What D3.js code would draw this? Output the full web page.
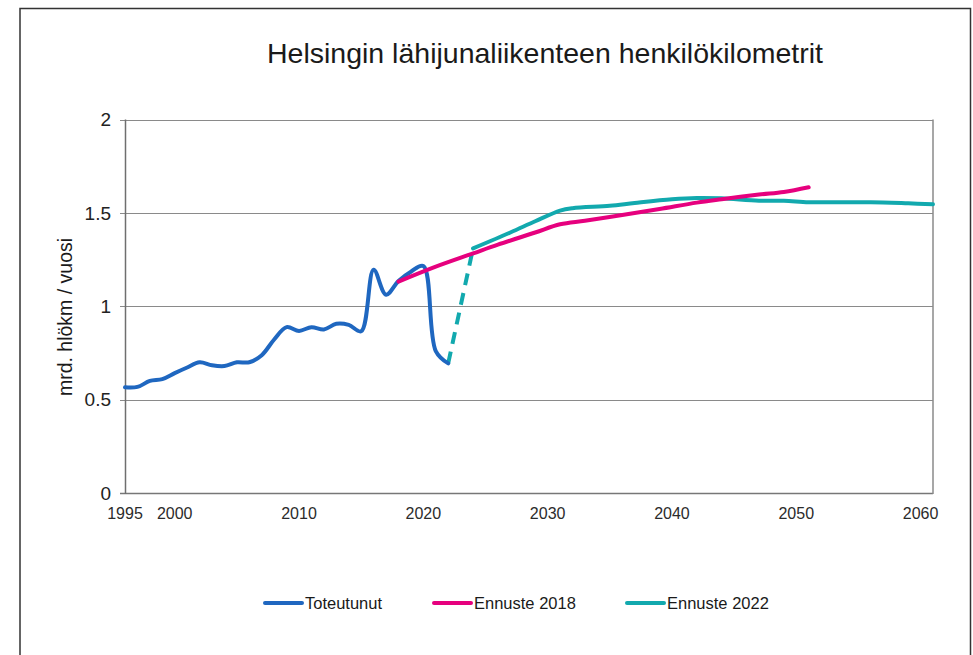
<!DOCTYPE html>
<html>
<head>
<meta charset="utf-8">
<script src="https://cdn.jsdelivr.net/npm/d3@7"></script>
<style>
  body { margin: 0; background: #fff; }
  svg { display: block; font-family: "Liberation Sans", Arial, sans-serif; }
</style>
</head>
<body>
<svg id="chart" width="973" height="655"></svg>
<script>
// values (mrd. hlökm / vuosi)
const toteutunutYears = [1995, 1996, 1997, 1998, 1999, 2000, 2001, 2002, 2003, 2004, 2005, 2006, 2007,
  2008, 2009, 2010, 2011, 2012, 2013, 2014, 2015, 2016, 2017, 2018, 2019, 2020, 2021];
const toteutunutValues = [0.566, 0.568, 0.600, 0.610, 0.642, 0.672, 0.700, 0.684, 0.680, 0.700, 0.700, 0.738, 0.822,
  0.888, 0.868, 0.888, 0.876, 0.906, 0.900, 0.866, 1.195, 1.062, 1.135, 1.185, 1.215, 0.760, 0.694];

const ennuste2018Years = [2017, 2020, 2023, 2025, 2028, 2030, 2032, 2035, 2038, 2041, 2043, 2046, 2048, 2050];
const ennuste2018Values = [1.132, 1.212, 1.283, 1.330, 1.395, 1.439, 1.458, 1.489, 1.521, 1.555, 1.573, 1.598, 1.612, 1.637];

// dashed link from the last actual year to the start of the 2022 forecast
const linkYears = [2021, 2023];
const linkValues = [0.694, 1.310];

const ennuste2022Years = [2023, 2026, 2028, 2030, 2031, 2034, 2036, 2039, 2041, 2043, 2046, 2048, 2050, 2053, 2055, 2058, 2060];
const ennuste2022Values = [1.310, 1.395, 1.455, 1.512, 1.525, 1.538, 1.553, 1.573, 1.580, 1.578, 1.565, 1.565, 1.557, 1.557, 1.557, 1.551, 1.546];

const xTickLabels = [1995, 2000, 2010, 2020, 2030, 2040, 2050, 2060];
const yTickValues = [0, 0.5, 1, 1.5, 2];
const yTickLabels = ['0', '0.5', '1', '1.5', '2'];

const seriesNames = ['Toteutunut', 'Ennuste 2018', 'Ennuste 2022'];
const seriesColors = ['#1f67c0', '#e6007e', '#12a9ae'];

const zip = (xs, ys) => xs.map((x, i) => ({ year: x, value: ys[i] }));

const margin = { top: 119.5, right: 40, bottom: 162, left: 125 };
const width = 973;
const height = 655;

const svg = d3.select('#chart');

// outer frame
svg.append('rect')
  .attr('x', 20)
  .attr('y', 8.5)
  .attr('width', 950.5)
  .attr('height', 700)
  .attr('fill', 'none')
  .attr('stroke', '#333')
  .attr('stroke-width', 1.5);

const xRange = d3.scaleLinear()
  .domain([1995, 2060])
  .range([margin.left, width - margin.right])
  .clamp(true);

const yRange = d3.scaleLinear()
  .domain([0, 2])
  .range([height - margin.bottom, margin.top]);

// gridlines, with the little outer tick on the left
svg.append('g')
  .selectAll('line')
  .data(yTickValues)
  .join('line')
  .attr('x1', margin.left - 5)
  .attr('x2', xRange(2060))
  .attr('y1', (d) => Math.round(yRange(d)) + 0.5)
  .attr('y2', (d) => Math.round(yRange(d)) + 0.5)
  .attr('stroke', (d) => d === 0 ? '#777' : '#8a8a8a')
  .attr('stroke-width', (d) => d === 0 ? 1.5 : 1.2);

svg.append('g')
  .selectAll('text')
  .data(yTickValues)
  .join('text')
  .attr('x', 111)
  .attr('y', (d) => yRange(d))
  .attr('dy', '0.35em')
  .attr('text-anchor', 'end')
  .attr('font-size', 19)
  .attr('fill', '#222')
  .text((d, i) => yTickLabels[i]);

// left axis and right plot border
svg.append('line')
  .attr('x1', margin.left + 0.5).attr('x2', margin.left + 0.5)
  .attr('y1', yRange(2)).attr('y2', yRange(0) + 1)
  .attr('stroke', '#6f6f6f')
  .attr('stroke-width', 1.5);

svg.append('line')
  .attr('x1', xRange(2060)).attr('x2', xRange(2060))
  .attr('y1', yRange(2)).attr('y2', yRange(0) + 1)
  .attr('stroke', '#8a8a8a')
  .attr('stroke-width', 1.5);

// x labels sit one category to the left in the source (1995 clamps to the axis)
svg.append('g')
  .selectAll('text')
  .data(xTickLabels)
  .join('text')
  .attr('x', (d) => xRange(d - 1))
  .attr('y', 518.5)
  .attr('text-anchor', 'middle')
  .attr('font-size', 16)
  .attr('fill', '#2b2b2b')
  .text((d) => d);

// titles
svg.append('text')
  .attr('x', 545)
  .attr('y', 63)
  .attr('text-anchor', 'middle')
  .attr('font-size', 28.5)
  .attr('fill', '#1a1a1a')
  .text('Helsingin lähijunaliikenteen henkilökilometrit');

svg.append('text')
  .attr('text-anchor', 'middle')
  .attr('transform', 'translate(72,317)rotate(-90)')
  .attr('font-size', 19.5)
  .attr('fill', '#1a1a1a')
  .text('mrd. hlökm / vuosi');

// series
let line = d3.line()
  .x((d) => xRange(d.year))
  .y((d) => yRange(d.value))
  .curve(d3.curveCatmullRom.alpha(0.5));

const plot = svg.append('g')
  .attr('fill', 'none')
  .attr('stroke-width', 4)
  .attr('stroke-linecap', 'round')
  .attr('stroke-linejoin', 'round');

plot.append('path')
  .attr('d', line(zip(linkYears, linkValues)))
  .attr('stroke', seriesColors[2])
  .attr('stroke-linecap', 'butt')
  .attr('stroke-dasharray', '12,8');

plot.append('path')
  .attr('d', line(zip(toteutunutYears, toteutunutValues)))
  .attr('stroke', seriesColors[0]);

plot.append('path')
  .attr('d', line(zip(ennuste2022Years, ennuste2022Values)))
  .attr('stroke', seriesColors[2]);

plot.append('path')
  .attr('d', line(zip(ennuste2018Years, ennuste2018Values)))
  .attr('stroke', seriesColors[1]);

// legend
const legendX = [265, 434, 627];
const legend = svg.append('g')
  .selectAll('g')
  .data(seriesNames)
  .join('g')
  .attr('transform', (d, i) => `translate(${legendX[i]},603)`);

legend.append('line')
  .attr('x1', 0).attr('x2', 37)
  .attr('stroke', (d, i) => seriesColors[i])
  .attr('stroke-width', 4)
  .attr('stroke-linecap', 'round');

legend.append('text')
  .attr('x', 40)
  .attr('dy', '0.36em')
  .attr('font-size', 16.5)
  .attr('fill', '#1a1a1a')
  .text((d) => d);
</script>
</body>
</html>
